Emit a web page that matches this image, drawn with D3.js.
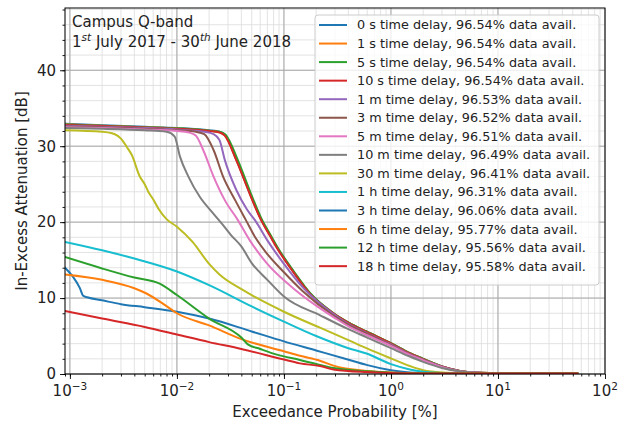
<!DOCTYPE html>
<html><head><meta charset="utf-8">
<script src="https://cdn.jsdelivr.net/npm/d3@7"></script>
<style>body{margin:0;background:#fff}svg{display:block}text{font-family:"DejaVu Sans",sans-serif}</style>
</head><body><svg id="c" width="628" height="425"></svg>
<script>
const seriesLabels = [
 "0 s time delay, 96.54% data avail.","1 s time delay, 96.54% data avail.","5 s time delay, 96.54% data avail.",
 "10 s time delay, 96.54% data avail.","1 m time delay, 96.53% data avail.","3 m time delay, 96.52% data avail.",
 "5 m time delay, 96.51% data avail.","10 m time delay, 96.49% data avail.","30 m time delay, 96.41% data avail.",
 "1 h time delay, 96.31% data avail.","3 h time delay, 96.06% data avail.","6 h time delay, 95.77% data avail.",
 "12 h time delay, 95.56% data avail.","18 h time delay, 95.58% data avail."];
const seriesColors = ["#1f77b4","#ff7f0e","#2ca02c","#d62728","#9467bd","#8c564b","#e377c2","#7f7f7f","#bcbd22","#17becf","#1f77b4","#ff7f0e","#2ca02c","#d62728"];
// [exceedance probability %, attenuation dB]
const delay0s = [[9e-4,32.95],[2e-3,32.75],[5e-3,32.55],[1e-2,32.4],[2e-2,32.1],[2.5e-2,31.9],[2.8e-2,31.5],[3.6e-2,28.2],[4.8e-2,23.8],[6e-2,20.6],[7.4e-2,18.3],[8.6e-2,16.7],[0.122,13.5],[0.175,10.6],[0.29,8.0],[0.41,6.7],[0.59,5.6],[1,4.05],[1.5,2.75],[2,2.0],[3,1.0],[4.4,0.4],[6.8,0.15],[10,0.08],[55,0.05]];
const delay1s = [[9e-4,32.9],[2e-3,32.7],[5e-3,32.5],[1e-2,32.35],[2e-2,32.05],[2.5e-2,31.85],[2.8e-2,31.45],[3.6e-2,28.2],[4.8e-2,23.8],[6e-2,20.6],[7.4e-2,18.3],[8.6e-2,16.7],[0.122,13.5],[0.175,10.6],[0.29,8.0],[0.41,6.7],[0.59,5.6],[1,4.05],[1.5,2.75],[2,2.0],[3,1.0],[4.4,0.4],[6.8,0.15],[10,0.08],[55,0.05]];
const delay5s = [[9e-4,32.85],[2e-3,32.7],[5e-3,32.5],[1e-2,32.35],[2e-2,32.05],[2.5e-2,31.9],[2.85e-2,31.5],[3.7e-2,28.2],[4.9e-2,23.8],[6.1e-2,20.6],[7.5e-2,18.3],[8.7e-2,16.7],[0.124,13.5],[0.177,10.6],[0.29,8.0],[0.41,6.7],[0.59,5.6],[1,4.05],[1.5,2.75],[2,2.0],[3,1.0],[4.4,0.4],[6.8,0.15],[10,0.08],[55,0.05]];
const delay10s = [[9e-4,32.8],[2e-3,32.65],[5e-3,32.45],[1e-2,32.3],[2e-2,32.0],[2.5e-2,31.8],[2.8e-2,31.4],[3.6e-2,28.1],[4.8e-2,23.7],[6e-2,20.5],[7.4e-2,18.2],[8.6e-2,16.6],[0.122,13.45],[0.175,10.55],[0.29,7.95],[0.41,6.65],[0.59,5.55],[1,4.0],[1.5,2.7],[2,1.95],[3,0.98],[4.4,0.4],[6.8,0.15],[10,0.08],[55,0.05]];
const delay1m = [[9e-4,32.7],[2e-3,32.55],[5e-3,32.4],[1e-2,32.2],[1.8e-2,31.9],[2.2e-2,31.6],[2.5e-2,30.8],[2.8e-2,28.2],[3.6e-2,24.2],[4.5e-2,21.7],[5.4e-2,20.2],[7e-2,17.6],[0.1,14.5],[0.15,11.4],[0.29,7.9],[0.41,6.5],[0.59,5.4],[1,3.9],[1.5,2.6],[2,1.9],[3,0.95],[4.4,0.38],[7,0.14],[10,0.08],[55,0.05]];
const delay3m = [[9e-4,32.6],[2e-3,32.5],[5e-3,32.3],[1e-2,32.1],[1.5e-2,31.9],[1.8e-2,31.6],[2.2e-2,29.5],[2.7e-2,26.0],[3.5e-2,22.9],[4.4e-2,20.3],[5.5e-2,17.8],[6.9e-2,15.9],[0.1,13.4],[0.15,10.9],[0.29,7.7],[0.41,6.4],[0.6,5.3],[1,3.8],[1.5,2.55],[2,1.85],[3,0.92],[4.4,0.37],[7,0.14],[10,0.08],[55,0.05]];
const delay5m = [[9e-4,32.5],[2e-3,32.4],[5e-3,32.2],[1e-2,32.0],[1.3e-2,31.8],[1.5e-2,31.4],[1.76e-2,29.5],[2.2e-2,26.0],[2.8e-2,22.9],[3.7e-2,20.3],[4.8e-2,17.6],[6.9e-2,14.6],[0.122,11.3],[0.2,9.0],[0.29,7.5],[0.41,6.2],[0.6,5.1],[1,3.7],[1.5,2.5],[2,1.8],[3,0.9],[4.4,0.36],[7,0.14],[10,0.08],[55,0.05]];
const delay10m = [[9e-4,32.4],[2e-3,32.3],[5e-3,32.1],[8e-3,31.9],[9.5e-3,31.3],[1.07e-2,28.6],[1.28e-2,26.0],[1.64e-2,23.3],[2.2e-2,21.1],[2.7e-2,19.6],[3.2e-2,18.3],[4e-2,16.8],[5e-2,14.6],[7e-2,12.4],[0.1,10.2],[0.22,7.7],[0.4,5.9],[0.6,4.8],[1,3.4],[1.5,2.3],[2,1.6],[3,0.8],[4.4,0.35],[7,0.13],[10,0.08],[55,0.05]];
const delay30m = [[9e-4,32.1],[2e-3,31.9],[2.6e-3,31.6],[3e-3,31.0],[3.4e-3,29.9],[3.8e-3,28.8],[4.5e-3,26.0],[5e-3,25.0],[5.4e-3,24.0],[6e-3,23.0],[6.7e-3,21.8],[8e-3,20.4],[1e-2,19.4],[1.4e-2,17.4],[2e-2,14.5],[2.5e-2,13.1],[4.2e-2,11.0],[0.1,8.2],[0.217,6.1],[0.41,4.4],[0.59,3.4],[1,2.05],[1.5,1.05],[2,0.5],[3,0.2],[5,0.1],[10,0.07],[55,0.05]];
const delay1h = [[9e-4,17.4],[2e-3,16.3],[4e-3,15.2],[1e-2,13.5],[2e-2,11.7],[5e-2,8.9],[0.1,6.9],[0.2,5.0],[0.4,3.4],[0.59,2.7],[1,1.3],[1.5,0.6],[2,0.3],[3,0.12],[5,0.07],[55,0.05]];
const delay3h = [[9e-4,14.0],[1e-3,13.3],[1.07e-3,12.8],[1.24e-3,11.3],[1.33e-3,10.3],[1.45e-3,10.1],[2e-3,9.7],[3e-3,9.2],[5e-3,8.8],[1e-2,8.2],[2e-2,7.3],[5e-2,5.6],[0.1,4.3],[0.2,3.1],[0.41,1.85],[0.59,1.2],[1,0.5],[1.5,0.2],[2,0.1],[5,0.06],[55,0.05]];
const delay6h = [[9e-4,13.1],[2e-3,12.4],[4e-3,11.3],[5.2e-3,10.6],[7.5e-3,9.2],[1e-2,8.0],[2e-2,6.4],[4e-2,4.6],[0.1,3.0],[0.141,2.4],[0.217,1.75],[0.29,1.1],[0.59,0.4],[1,0.2],[2,0.1],[5,0.06],[55,0.05]];
const delay12h = [[9e-4,15.4],[2e-3,13.9],[4e-3,12.7],[6.9e-3,11.9],[1e-2,10.4],[2e-2,7.3],[4e-2,4.8],[4.6e-2,3.9],[6e-2,3.3],[8.6e-2,2.55],[0.141,1.85],[0.217,1.2],[0.29,0.8],[0.6,0.35],[1,0.18],[2,0.09],[5,0.06],[55,0.05]];
const delay18h = [[9e-4,8.3],[2e-3,7.3],[5e-3,6.2],[1e-2,5.2],[2e-2,4.2],[4e-2,3.3],[0.1,1.9],[0.141,1.4],[0.217,1.05],[0.29,0.6],[0.6,0.25],[1,0.14],[2,0.08],[5,0.06],[55,0.05]];
const seriesData = [delay0s,delay1s,delay5s,delay10s,delay1m,delay3m,delay5m,delay10m,delay30m,delay1h,delay3h,delay6h,delay12h,delay18h];
const xMajorTicks = [1e-3,1e-2,1e-1,1,10,100];
const xTickExps = ["\u22123","\u22122","\u22121","0","1","2"];
const yMajorTicks = [0,10,20,30,40];
const titleLine1 = "Campus Q-band";
const xLabel = "Exceedance Probability [%]";
const yLabel = "In-Excess Attenuation [dB]";

const svg = d3.select("#c");
const L=65,R=605,T=8,B=374;
const x = d3.scaleLog().domain([9e-4,100]).range([L,R]);
const y = d3.scaleLinear().domain([0,48.2]).range([B,T]);

const xMinor=[];
for(let e=-4;e<2;e++) for(let k=1;k<10;k++){const v=k*Math.pow(10,e); if(v>=9e-4&&v<=100) xMinor.push(v);}
const yMinor=d3.range(0,48.2,2);

const g=svg.append("g");
g.selectAll(".gxm").data(xMinor).join("line").attr("x1",d=>x(d)).attr("x2",d=>x(d)).attr("y1",T).attr("y2",B).attr("stroke","#dcdcdc").attr("stroke-width",0.8);
g.selectAll(".gym").data(yMinor).join("line").attr("y1",d=>y(d)).attr("y2",d=>y(d)).attr("x1",L).attr("x2",R).attr("stroke","#dcdcdc").attr("stroke-width",0.8);
g.selectAll(".gx").data(xMajorTicks).join("line").attr("x1",d=>x(d)).attr("x2",d=>x(d)).attr("y1",T).attr("y2",B).attr("stroke","#a8a8a8").attr("stroke-width",1);
g.selectAll(".gy").data(yMajorTicks).join("line").attr("y1",d=>y(d)).attr("y2",d=>y(d)).attr("x1",L).attr("x2",R).attr("stroke","#a8a8a8").attr("stroke-width",1);

const line=d3.line().x(d=>x(d[0])).y(d=>y(d[1])).curve(d3.curveMonotoneX);
svg.append("clipPath").attr("id","cp").append("rect").attr("x",L).attr("y",T).attr("width",R-L).attr("height",B-T);
svg.append("g").attr("clip-path","url(#cp)").selectAll("path").data(seriesData).join("path")
 .attr("d",line).attr("fill","none").attr("stroke",(d,i)=>seriesColors[i]).attr("stroke-width",2).attr("stroke-linejoin","round").attr("stroke-linecap","square");

const xAxis=svg.append("g").attr("transform",`translate(0,${B})`).call(d3.axisBottom(x).tickValues(xMinor).tickSize(2.5).tickFormat(""));
xAxis.select(".domain").remove();
const xAxisMaj=svg.append("g").attr("transform",`translate(0,${B})`).call(d3.axisBottom(x).tickValues(xMajorTicks).tickSize(5).tickFormat(""));
xAxisMaj.select(".domain").remove();
const yAxis=svg.append("g").attr("transform",`translate(${L},0)`).call(d3.axisLeft(y).tickValues(yMinor).tickSize(2.5).tickFormat(""));
yAxis.select(".domain").remove();
const yAxisMaj=svg.append("g").attr("transform",`translate(${L},0)`).call(d3.axisLeft(y).tickValues(yMajorTicks).tickSize(5).tickPadding(4).tickFormat(d3.format("d")));
yAxisMaj.select(".domain").remove();
svg.selectAll(".tick line").attr("stroke","#000").attr("stroke-width",0.9);
yAxisMaj.selectAll("text").attr("font-size",15).attr("fill","#222").attr("font-family","DejaVu Sans");

const xl=svg.append("g");
xMajorTicks.forEach((v,i)=>{
  const t=xl.append("text").attr("x",x(v)).attr("y",396).attr("text-anchor","middle").attr("font-size",15).attr("fill","#222");
  t.append("tspan").text("10");
  t.append("tspan").attr("dy",-6).attr("font-size",10.5).text(xTickExps[i]);
});

svg.append("rect").attr("x",L).attr("y",T).attr("width",R-L).attr("height",B-T).attr("fill","none").attr("stroke","#000").attr("stroke-width",1);

svg.append("text").attr("x",(L+R)/2).attr("y",417).attr("text-anchor","middle").attr("font-size",15).attr("fill","#222").text(xLabel);
svg.append("text").attr("transform",`translate(27,${(T+B)/2}) rotate(-90)`).attr("text-anchor","middle").attr("font-size",15).attr("fill","#222").text(yLabel);

svg.append("text").attr("x",72).attr("y",27).attr("font-size",15).attr("fill","#222").text(titleLine1);
const t2=svg.append("text").attr("x",72).attr("y",47).attr("font-size",15).attr("fill","#222");
t2.append("tspan").text("1");
t2.append("tspan").attr("dy",-6).attr("font-size",10.5).attr("font-style","italic").text("st");
t2.append("tspan").attr("dy",6).text(" July 2017 - 30");
t2.append("tspan").attr("dy",-6).attr("font-size",10.5).attr("font-style","italic").text("th");
t2.append("tspan").attr("dy",6).text(" June 2018");

const lg=svg.append("g");
lg.append("rect").attr("x",315).attr("y",15).attr("width",284).attr("height",270).attr("rx",3).attr("fill","#fff").attr("fill-opacity",0.8).attr("stroke","#cccccc").attr("stroke-width",1);
const rows=lg.selectAll("g.r").data(seriesLabels).join("g").attr("transform",(d,i)=>`translate(0,${25+i*18.55})`);
rows.append("line").attr("x1",319).attr("x2",347).attr("stroke",(d,i)=>seriesColors[i]).attr("stroke-width",2);
rows.append("text").attr("x",357).attr("y",0).attr("dy","0.35em").attr("font-size",12.8).attr("fill","#222").text(d=>d);
</script></body></html>
